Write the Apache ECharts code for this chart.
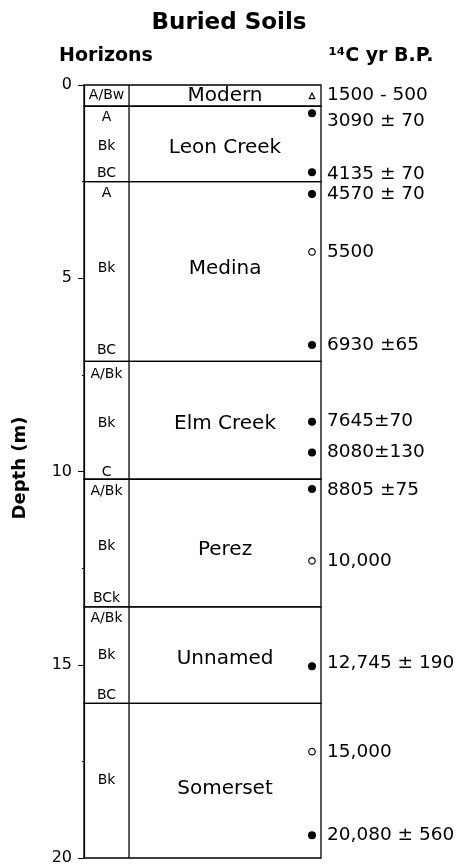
<!DOCTYPE html>
<html><head><meta charset="utf-8">
<script src="https://cdn.jsdelivr.net/npm/echarts@6/dist/echarts.min.js"></script>
<style>html,body{margin:0;padding:0;background:#fff}#c{width:456px;height:866px}</style>
</head><body><div id="c"></div><script>
// Soil units (depth in m)
const soilNames = ['Modern','Leon Creek','Medina','Elm Creek','Perez','Unnamed','Somerset'];
const soilTop   = [0, 0.55, 2.5, 7.15, 10.2, 13.5, 16.0];
const soilBase  = [0.55, 2.5, 7.15, 10.2, 13.5, 16.0, 20];
const soilNameDepth = [0.29, 1.62, 4.76, 8.77, 12.02, 14.85, 18.2];

// Horizon labels
const horizonLabels = ['A/Bw','A','Bk','BC','A','Bk','BC','A/Bk','Bk','C','A/Bk','Bk','BCk','A/Bk','Bk','BC','Bk'];
const horizonDepths = [0.28,0.85,1.59,2.29,2.81,4.74,6.86,7.48,8.75,10.02,10.51,11.93,13.27,13.79,14.76,15.79,17.99];

// 14C dates
const dateLabels = ['1500 - 500','3090 ± 70','4135 ± 70','4570 ± 70','5500','6930 ±65','7645±70','8080±130','8805 ±75','10,000','12,745 ± 190','15,000','20,080 ± 560'];
const dateDepths = [0.28,0.73,2.26,2.82,4.32,6.73,8.71,9.51,10.45,12.31,15.04,17.25,19.41];
const dateLabelDepths = [0.26,0.93,2.32,2.83,4.32,6.73,8.71,9.51,10.48,12.31,14.97,17.25,19.41];
const dateTypes = ['triangle','filled','filled','filled','open','filled','filled','filled','filled','open','filled','open','filled'];

// Axis ticks
const depthMin = 0, depthMax = 20, depthStep = 5;

const FONT = '"DejaVu Sans", sans-serif';
const COL_X = 19;    // horizon column divider (x-axis units 0..100)
const DOT_X = 96.2;  // sample marker column

const chart = echarts.init(document.getElementById('c'), null, {renderer:'canvas'});

const symbolFor = t => t === 'triangle' ? 'triangle' : 'circle';
const pointData = dateDepths.map((d, i) => {
  const t = dateTypes[i];
  return {
    value: [DOT_X, d],
    symbol: symbolFor(t),
    symbolSize: t === 'filled' ? 8 : (t === 'open' ? 6.5 : 5.5),
    itemStyle: t === 'filled'
      ? {color:'#000', borderWidth:0, opacity:1}
      : {color:'#fff', borderColor:'#000', borderWidth:1.2, opacity:1}
  };
});

const option = {
  animation: false,
  backgroundColor: '#fff',
  grid: {left:84, right:135, top:85, bottom:4, containLabel:false},
  xAxis: {type:'value', min:0, max:100, show:false},
  yAxis: {
    type:'value', min:depthMin, max:depthMax, interval:depthStep, inverse:true,
    axisLine:{show:true, lineStyle:{color:'#000', width:1.2}},
    axisTick:{show:true, length:6, lineStyle:{color:'#000', width:1}},
    minorTick:{show:true, splitNumber:2, length:2, lineStyle:{color:'#000', width:1}},
    splitLine:{show:false},
    axisLabel:{color:'#000', fontSize:16, fontFamily:FONT, margin:12}
  },
  graphic: [
    {type:'text', x:229, y:23, style:{text:'Buried Soils', fontSize:23, fontWeight:'bold', fontFamily:FONT, fill:'#000', align:'center', verticalAlign:'middle'}},
    {type:'text', x:106, y:56, style:{text:'Horizons', fontSize:19, fontWeight:'bold', fontFamily:FONT, fill:'#000', align:'center', verticalAlign:'middle'}},
    {type:'text', x:381, y:56, style:{text:'¹⁴C yr B.P.', fontSize:19, fontWeight:'bold', fontFamily:FONT, fill:'#000', align:'center', verticalAlign:'middle'}},
    {type:'text', x:20, y:468, rotation:Math.PI/2, style:{text:'Depth (m)', fontSize:18, fontWeight:'bold', fontFamily:FONT, fill:'#000', align:'center', verticalAlign:'middle'}}
  ],
  series: [
    {
      type:'custom', coordinateSystem:'cartesian2d', silent:true, clip:false,
      encode:{y:[0,1]},
      data: soilNames.map((n, i) => [soilTop[i], soilBase[i], soilNameDepth[i]]),
      renderItem: (params, api) => {
        const top = api.value(0), base = api.value(1), nd = api.value(2);
        const p0 = api.coord([0, top]), p1 = api.coord([100, base]);
        const dx = api.coord([COL_X, top])[0];
        const c = api.coord([(COL_X + 100) / 2, nd]);
        return {type:'group', children:[
          {type:'rect', shape:{x:p0[0], y:p0[1], width:p1[0]-p0[0], height:p1[1]-p0[1]}, style:{fill:'none', stroke:'#000', lineWidth:1.3}},
          {type:'line', shape:{x1:dx, y1:p0[1], x2:dx, y2:p1[1]}, style:{stroke:'#000', lineWidth:1.3}},
          {type:'text', x:c[0], y:c[1], style:{text:soilNames[params.dataIndex], fontSize:20, fontFamily:FONT, fill:'#000', align:'center', verticalAlign:'middle'}}
        ]};
      }
    },
    {
      type:'custom', coordinateSystem:'cartesian2d', silent:true, clip:false,
      encode:{y:0},
      data: horizonDepths.map(d => [d]),
      renderItem: (params, api) => {
        const p = api.coord([COL_X / 2, api.value(0)]);
        return {type:'text', x:p[0], y:p[1], style:{text:horizonLabels[params.dataIndex], fontSize:14, fontFamily:FONT, fill:'#000', align:'center', verticalAlign:'middle'}};
      }
    },
    {
      type:'scatter', silent:true, data: pointData, z:5
    },
    {
      type:'custom', coordinateSystem:'cartesian2d', silent:true, clip:false,
      encode:{y:0},
      data: dateLabelDepths.map(d => [d]),
      renderItem: (params, api) => {
        const p = api.coord([100, api.value(0)]);
        return {type:'text', x:p[0] + 6, y:p[1], style:{text:dateLabels[params.dataIndex], fontSize:18.5, fontFamily:FONT, fill:'#000', align:'left', verticalAlign:'middle'}};
      }
    }
  ]
};
chart.setOption(option);
</script></body></html>
